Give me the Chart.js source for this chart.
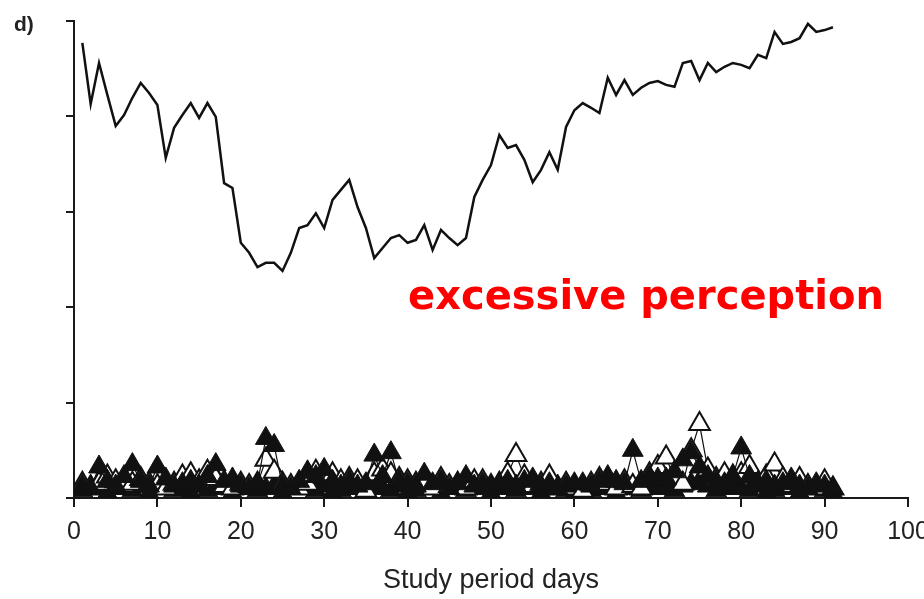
<!DOCTYPE html>
<html>
<head>
<meta charset="utf-8">
<script src="https://cdn.jsdelivr.net/npm/chart.js@4.4.1/dist/chart.umd.min.js"></script>
<style>
  html, body { margin: 0; padding: 0; background: #fff; }
  #wrap { position: relative; width: 924px; height: 599px; }
  canvas { display: block; }
  .panel { position: absolute; left: 14px; top: 14px; font: bold 21px "Liberation Sans", Arial, sans-serif; line-height: 20px; color: #222; }
  .note { position: absolute; left: 408px; top: 272px; font: bold 40px "Comic Sans MS", "DejaVu Sans", sans-serif; line-height: 46px; color: #ff0000; white-space: nowrap; }
</style>
</head>
<body>
<div id="wrap">
  <canvas id="chart" width="924" height="599"></canvas>
  <div class="panel">d)</div>
  <div class="note">excessive perception</div>
</div>
<script>
// study days 1..91
const days = Array.from({ length: 91 }, (_, i) => i + 1);

const xTicks = [0, 10, 20, 30, 40, 50, 60, 70, 80, 90, 100];

// upper curve
const perception = [
  95.4, 82.6, 91.2, 84.5, 78.0, 80.3, 83.9, 87.0, 84.9, 82.4,
  71.3, 77.6, 80.3, 82.8, 79.7, 82.8, 79.9, 66.0, 65.0, 53.5,
  51.4, 48.4, 49.3, 49.3, 47.6, 51.4, 56.6, 57.2, 59.7, 56.6,
  62.5, 64.6, 66.7, 61.0, 56.6, 50.3, 52.4, 54.5, 55.1, 53.5,
  54.1, 57.2, 52.0, 56.2, 54.5, 53.0, 54.5, 63.1, 66.7, 69.8,
  76.1, 73.4, 74.0, 70.9, 66.2, 68.8, 72.5, 68.8, 77.8, 81.3,
  82.8, 81.8, 80.7, 88.1, 84.5, 87.6, 84.5, 86.0, 87.0, 87.4,
  86.6, 86.2, 91.2, 91.6, 87.6, 91.2, 89.3, 90.4, 91.2, 90.8,
  90.1, 92.9, 92.2, 97.7, 95.2, 95.6, 96.4, 99.4, 97.7, 98.1,
  98.7
];

// filled triangles lying on the baseline
const baseTri = [
  1.5, 2.5, 2, 1, 2.5, 2, 1.5, 2.5, 1, 2,
  2.5, 1.5, 2, 1, 2.5, 1.5, 2, 2.5, 1, 2,
  2.5, 1.5, 2, 2.5, 1, 2, 2.5, 2, 1.5, 2.5,
  1, 1.5, 2.5, 2, 1, 2.5, 2, 1.5, 2.5, 1,
  1.5, 2.5, 2, 1, 2.5, 2, 1.5, 2, 2.5, 1,
  2, 2.5, 1.5, 2, 2.5, 1, 2, 2.5, 1.5, 1,
  2.5, 1.5, 2, 2.5, 1, 2, 2.5, 1.5, 2, 2.5,
  2, 1.5, 2.5, 3, 3.5, 2.5, 1.5, 2, 2.5, 2,
  1.5, 2.5, 1, 1.5, 2.5, 2, 1, 2.5, 2, 1.5,
  1
];

// filled triangles
const filledTri = [
  2.5, 2, 6.5, 3.5, 2.5, 4.5, 7, 3.5, 2.5, 6.5,
  4, 2.5, 3, 3.5, 2.5, 4.5, 7, 3.5, 4, 2.5,
  2, 3, 12.5, 11, 2.5, 2, 3.5, 5.5, 4.5, 6,
  3.5, 2.5, 3.5, 2.5, 3, 9, 4.5, 9.5, 3.5, 3,
  2.5, 5, 3, 3.5, 2, 3, 4.5, 2.5, 3, 2.5,
  3, 3.5, 2.5, 3.5, 4, 2.5, 3, 2, 2.5, 3,
  3, 2.5, 3.5, 4.5, 3.5, 3, 10, 3.5, 4.5, 4,
  4, 5.5, 8, 9.5, 6.5, 4.5, 3.5, 3, 4.5, 10.5,
  4.5, 3, 3.5, 2.5, 3, 4, 2.5, 2, 3, 2.5,
  2
];

// open triangles
const openTri = [
  3, 2, 3, 4.5, 3.5, 2.5, 3, 4, 3, 2.5,
  2, 3, 4.5, 5, 3.5, 5.5, 4, 2.5, 2, 3,
  2.5, 3, 8, 5.5, 3, 2.5, 2, 3, 5.5, 4.5,
  5, 3.5, 4, 3.5, 1.5, 5, 6, 5, 4, 3.5,
  3, 3, 2, 4, 2.5, 3, 2, 3.5, 3.5, 2.5,
  3, 5, 9, 4.5, 2.5, 3, 4.5, 2, 3, 2,
  1.5, 3, 4, 3, 2, 3.5, 2.5, 2, 5, 6.5,
  8.5, 4, 3, 10, 15.5, 6, 4, 5, 4.5, 5,
  6.5, 3, 4.5, 7, 4, 2.5, 4, 2.5, 2, 3.5,
  2
];

const pts = (vals) => vals.map((v, i) => ({ x: days[i], y: v }));

const ink = '#1a1a1a';
const tickFont = { family: '"Liberation Sans", Arial, sans-serif', size: 25 };

function triangles(vals, fill, borderW) {
  return {
    data: pts(vals),
    borderColor: '#111',
    borderWidth: 1.2,
    pointStyle: 'triangle',
    pointRadius: 12,
    pointBackgroundColor: fill,
    pointBorderColor: '#111',
    pointBorderWidth: borderW,
    tension: 0
  };
}

new Chart(document.getElementById('chart'), {
  type: 'line',
  data: {
    // first dataset is drawn last (on top)
    datasets: [
      {
        data: pts(perception),
        borderColor: '#111',
        borderWidth: 2.5,
        pointRadius: 0,
        tension: 0
      },
      triangles(filledTri, '#111', 1),
      triangles(openTri, '#fff', 2),
      triangles(baseTri, '#111', 1)
    ]
  },
  options: {
    responsive: false,
    animation: false,
    devicePixelRatio: 1,
    layout: { padding: { left: 0, top: 21, right: 16, bottom: 0 } },
    plugins: { legend: { display: false }, tooltip: { enabled: false } },
    scales: {
      x: {
        type: 'linear',
        min: 0,
        max: 100,
        afterBuildTicks: (s) => { s.ticks = xTicks.map((v) => ({ value: v })); },
        afterFit: (s) => { s.height = 101; s.paddingLeft = 0; s.paddingRight = 0; },
        grid: { drawOnChartArea: false, tickLength: 9, color: ink, lineWidth: 2 },
        border: { color: ink, width: 2 },
        ticks: { color: '#222', font: tickFont, padding: 10, maxRotation: 0, autoSkip: false },
        title: {
          display: true,
          text: 'Study period days',
          color: '#222',
          font: { family: '"Liberation Sans", Arial, sans-serif', size: 27 },
          padding: { top: 4, bottom: 2 }
        }
      },
      y: {
        min: 0,
        max: 100,
        ticks: { display: false, stepSize: 20 },
        afterFit: (s) => { s.width = 74; },
        grid: { drawOnChartArea: false, tickLength: 8, color: ink, lineWidth: 2 },
        border: { color: ink, width: 2 }
      }
    }
  }
});
</script>
</body>
</html>
